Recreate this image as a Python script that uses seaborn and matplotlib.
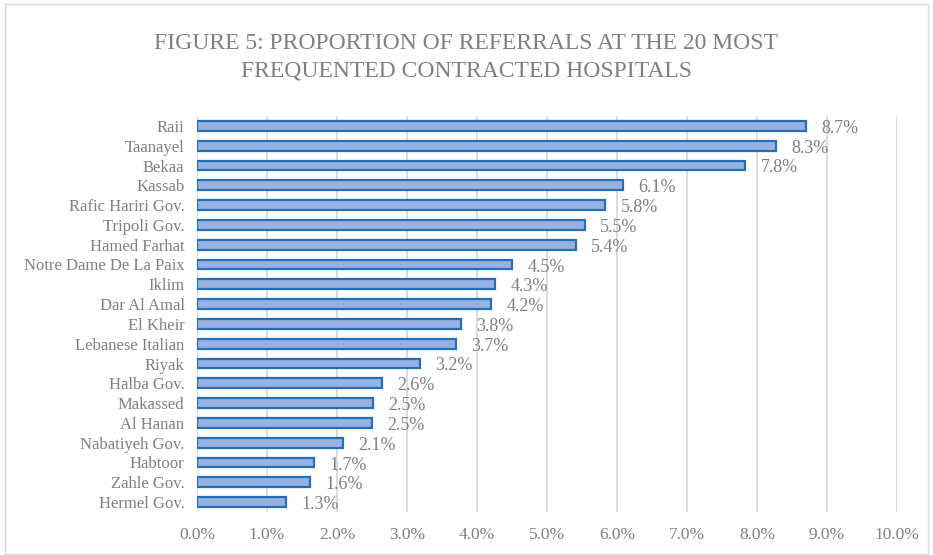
import pandas as pd
import seaborn as sns
import matplotlib.pyplot as plt
from matplotlib.ticker import FuncFormatter
from matplotlib.patches import Rectangle

hospitals = ["Raii", "Taanayel", "Bekaa", "Kassab", "Rafic Hariri Gov.", "Tripoli Gov.",
             "Hamed Farhat", "Notre Dame De La Paix", "Iklim", "Dar Al Amal", "El Kheir",
             "Lebanese Italian", "Riyak", "Halba Gov.", "Makassed", "Al Hanan",
             "Nabatiyeh Gov.", "Habtoor", "Zahle Gov.", "Hermel Gov."]
share_pct = [8.70, 8.27, 7.83, 6.09, 5.83, 5.54, 5.41, 4.50, 4.26, 4.20, 3.77,
             3.70, 3.19, 2.64, 2.51, 2.50, 2.09, 1.67, 1.61, 1.27]
xticks = [0, 1, 2, 3, 4, 5, 6, 7, 8, 9, 10]

df = pd.DataFrame({"hospital": hospitals, "share": share_pct})

sns.set_style("white")
plt.rcParams["font.family"] = ["Liberation Serif", "DejaVu Serif"]
grey = "#808080"

fig = plt.figure(figsize=(9.33, 5.55), dpi=100)
ax = fig.add_axes([197 / 933, 1 - 512 / 555, 700 / 933, 396 / 555])

sns.barplot(data=df, x="share", y="hospital", orient="h", color="#98B1E0",
            saturation=1, edgecolor="#2370B8", linewidth=1.6, width=0.5, ax=ax)

# data labels, nudged a touch below the bar centre like the original
for c in ax.containers:
    labels = ax.bar_label(c, labels=[f"{v:.1f}%" for v in share_pct], padding=11,
                          color=grey, fontsize=13)
    for t in labels:
        x0, y0 = t.xyann
        t.xyann = (x0, y0 - 1.8)

ax.set_xlim(0, 10)
ax.set_xticks(xticks)
ax.xaxis.set_major_formatter(FuncFormatter(lambda v, p: f"{v:.1f}%"))
ax.grid(axis="x", color="#D9D9D9", linewidth=1.3)
ax.set_axisbelow(True)
for s in ax.spines.values():
    s.set_visible(False)
ax.set_xlabel("")
ax.set_ylabel("")
ax.tick_params(axis="x", colors=grey, labelsize=12.5, length=0, pad=11)
ax.tick_params(axis="y", colors=grey, labelsize=12, length=0, pad=9)

fig.text(0.5, 1 - 57 / 555, "FIGURE 5: PROPORTION OF REFERRALS AT THE 20 MOST\nFREQUENTED CONTRACTED HOSPITALS",
         ha="center", va="center", fontsize=17, color=grey, linespacing=1.4)

fig.patches.append(Rectangle((5 / 933, 0.002), 1 - 10 / 933, 0.99, transform=fig.transFigure,
                             fill=False, edgecolor="#D9D9D9", linewidth=1))

plt.savefig("out.png", dpi=100)
plt.close()
